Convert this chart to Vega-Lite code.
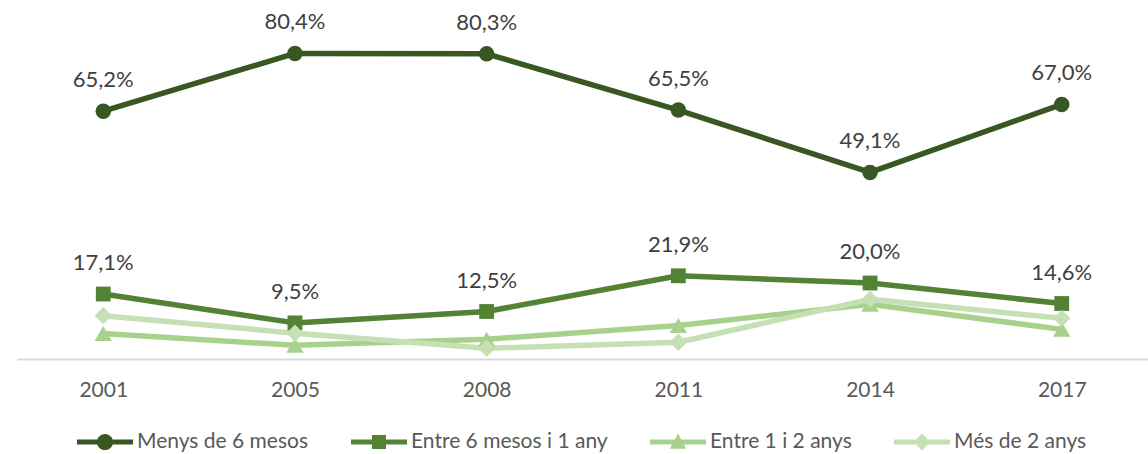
{
  "$schema": "https://vega.github.io/schema/vega-lite/v6.json",
  "autosize": "none",
  "width": 1131,
  "height": 342,
  "padding": {"left": 17, "top": 17, "right": 0, "bottom": 95},
  "config": {
    "view": {"stroke": null},
    "font": "Lato",
    "legend": {"symbolStrokeWidth": 0}
  },
  "data": {
    "values": [
      {"year": "2001", "serie": "Menys de 6 mesos", "v": 65.2},
      {"year": "2005", "serie": "Menys de 6 mesos", "v": 80.4},
      {"year": "2008", "serie": "Menys de 6 mesos", "v": 80.3},
      {"year": "2011", "serie": "Menys de 6 mesos", "v": 65.5},
      {"year": "2014", "serie": "Menys de 6 mesos", "v": 49.1},
      {"year": "2017", "serie": "Menys de 6 mesos", "v": 67.0},
      {"year": "2001", "serie": "Entre 6 mesos i 1 any", "v": 17.1},
      {"year": "2005", "serie": "Entre 6 mesos i 1 any", "v": 9.5},
      {"year": "2008", "serie": "Entre 6 mesos i 1 any", "v": 12.5},
      {"year": "2011", "serie": "Entre 6 mesos i 1 any", "v": 21.9},
      {"year": "2014", "serie": "Entre 6 mesos i 1 any", "v": 20.0},
      {"year": "2017", "serie": "Entre 6 mesos i 1 any", "v": 14.6},
      {"year": "2001", "serie": "Entre 1 i 2 anys", "v": 6.7},
      {"year": "2005", "serie": "Entre 1 i 2 anys", "v": 3.6},
      {"year": "2008", "serie": "Entre 1 i 2 anys", "v": 5.2},
      {"year": "2011", "serie": "Entre 1 i 2 anys", "v": 8.8},
      {"year": "2014", "serie": "Entre 1 i 2 anys", "v": 14.4},
      {"year": "2017", "serie": "Entre 1 i 2 anys", "v": 7.8},
      {"year": "2001", "serie": "Més de 2 anys", "v": 11.4},
      {"year": "2005", "serie": "Més de 2 anys", "v": 6.8},
      {"year": "2008", "serie": "Més de 2 anys", "v": 2.8},
      {"year": "2011", "serie": "Més de 2 anys", "v": 4.4},
      {"year": "2014", "serie": "Més de 2 anys", "v": 15.7},
      {"year": "2017", "serie": "Més de 2 anys", "v": 10.7}
    ]
  },
  "encoding": {
    "x": {
      "field": "year", "type": "ordinal", "sort": null,
      "scale": {"type": "point", "padding": 0.45},
      "axis": {
        "title": null, "labelAngle": 0, "ticks": false,
        "domainColor": "#D9D9D9", "domainWidth": 2,
        "labelFont": "Lato", "labelFontSize": 21, "labelColor": "#595959",
        "labelPadding": 20
      }
    },
    "y": {
      "field": "v", "type": "quantitative",
      "scale": {"domain": [0, 90], "nice": false, "zero": true},
      "axis": null
    },
    "color": {
      "field": "serie", "type": "nominal",
      "sort": ["Menys de 6 mesos", "Entre 6 mesos i 1 any", "Entre 1 i 2 anys", "Més de 2 anys"],
      "scale": {
        "domain": ["Menys de 6 mesos", "Entre 6 mesos i 1 any", "Entre 1 i 2 anys", "Més de 2 anys"],
        "range": ["#385723", "#548235", "#A9D18E", "#C5E0B4"]
      },
      "legend": {
        "title": null, "orient": "none", "direction": "horizontal",
        "legendX": 60, "legendY": 397, "padding": 0,
        "columnPadding": 42, "labelLimit": 400,
        "labelFont": "Lato", "labelFontSize": 21, "labelColor": "#595959",
        "labelOffset": 4, "symbolSize": 3136, "symbolStrokeWidth": 0,
        "encode": {
          "symbols": {
            "update": {
              "shape": {"signal": "datum.value == 'Menys de 6 mesos' ? 'M-1,-0.09H1V0.09H-1Z M0.29,0A0.29,0.29,0,1,1,-0.29,0A0.29,0.29,0,1,1,0.29,0Z' : datum.value == 'Entre 6 mesos i 1 any' ? 'M-1,-0.09H1V0.09H-1Z M-0.25,-0.25H0.25V0.25H-0.25Z' : datum.value == 'Entre 1 i 2 anys' ? 'M-1,-0.09H1V0.09H-1Z M0,-0.3L0.29,0.24H-0.29Z' : 'M-1,-0.09H1V0.09H-1Z M0,-0.3L0.3,0L0,0.3L-0.3,0Z'"},
              "fill": {"signal": "scale('color', datum.value)"},
              "fillOpacity": {"value": 1},
              "strokeWidth": {"value": 0}
            }
          }
        }
      }
    }
  },
  "layer": [
    {
      "transform": [{"filter": "datum.serie != 'Menys de 6 mesos'"}],
      "mark": {"type": "line", "strokeWidth": 5.5, "strokeJoin": "round", "strokeCap": "round"},
      "encoding": {"detail": {"field": "serie"}}
    },
    {
      "transform": [{"filter": "datum.serie == 'Menys de 6 mesos'"}],
      "mark": {"type": "line", "strokeWidth": 5.5, "strokeJoin": "round", "strokeCap": "round"},
      "encoding": {}
    },
    {
      "transform": [{"filter": "datum.serie == 'Menys de 6 mesos'"}],
      "mark": {"type": "point", "shape": "circle", "filled": true, "opacity": 1, "size": 240}
    },
    {
      "transform": [{"filter": "datum.serie == 'Entre 6 mesos i 1 any'"}],
      "mark": {"type": "point", "shape": "square", "filled": true, "opacity": 1, "size": 220}
    },
    {
      "transform": [{"filter": "datum.serie == 'Entre 1 i 2 anys'"}],
      "mark": {"type": "point", "shape": "triangle-up", "filled": true, "opacity": 1, "size": 300}
    },
    {
      "transform": [{"filter": "datum.serie == 'Més de 2 anys'"}],
      "mark": {"type": "point", "shape": "diamond", "filled": true, "opacity": 1, "size": 300}
    },
    {
      "transform": [
        {"filter": "datum.serie == 'Menys de 6 mesos' || datum.serie == 'Entre 6 mesos i 1 any'"},
        {"calculate": "replace(format(datum.v, '.1f'), '.', ',') + '%'", "as": "lbl"}
      ],
      "mark": {"type": "text", "dy": -31, "font": "Lato", "fontSize": 22},
      "encoding": {"text": {"field": "lbl"}, "color": {"value": "#404040"}}
    }
  ]
}
